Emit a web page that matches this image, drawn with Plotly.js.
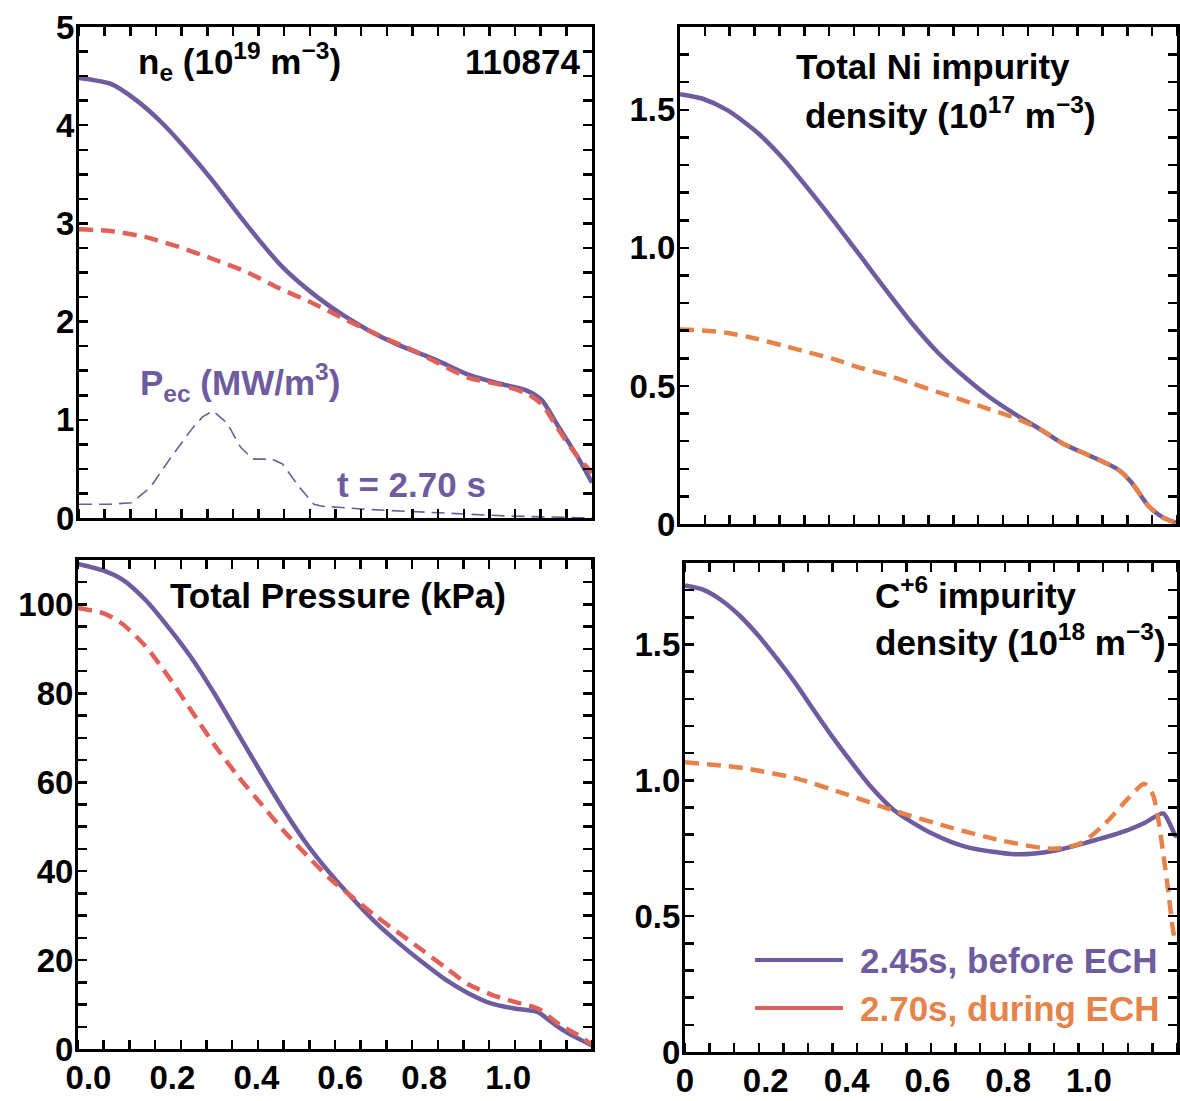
<!DOCTYPE html>
<html>
<head>
<meta charset="utf-8">
<script src="https://cdn.plot.ly/plotly-3.0.1.min.js"></script>
<style>
  html, body { margin: 0; padding: 0; background: #fff; }
  #chart { width: 1180px; height: 1101px; }
</style>
</head>
<body>
<div id="chart"></div>
<script>
// ---------------- DATA ----------------
// Top-left: electron density n_e (10^19 m^-3)
const neBeforeX = [-0.025, 0.051, 0.110, 0.174, 0.230, 0.293, 0.349, 0.405, 0.460, 0.532, 0.604, 0.667, 0.739, 0.827, 0.904, 0.978, 1.043, 1.080, 1.117, 1.163, 1.2];
const neBefore = [4.48, 4.42, 4.26, 4.02, 3.76, 3.44, 3.13, 2.83, 2.56, 2.29, 2.07, 1.91, 1.76, 1.61, 1.46, 1.37, 1.30, 1.20, 0.95, 0.64, 0.36];
const neDuringX = [-0.025, 0.055, 0.134, 0.214, 0.293, 0.373, 0.453, 0.532, 0.612, 0.691, 0.771, 0.818, 0.904, 0.978, 1.043, 1.080, 1.117, 1.163, 1.2];
const neDuring = [2.94, 2.92, 2.86, 2.76, 2.64, 2.51, 2.34, 2.19, 2.02, 1.86, 1.71, 1.61, 1.43, 1.36, 1.27, 1.16, 0.92, 0.64, 0.46];

// Top-left: ECH power density P_ec (MW/m^3) at t = 2.70 s
const pecX = [-0.025, 0.05, 0.100, 0.145, 0.195, 0.245, 0.270, 0.295, 0.328, 0.361, 0.390, 0.436, 0.461, 0.502, 0.536, 0.556, 0.668, 0.835, 1.0, 1.2];
const pec = [0.14, 0.14, 0.155, 0.31, 0.62, 0.91, 1.03, 1.09, 0.97, 0.72, 0.60, 0.60, 0.55, 0.31, 0.14, 0.12, 0.086, 0.05, 0.02, 0.0];

// Top-right: total Ni impurity density (10^17 m^-3)
const niX = [0, 0.054, 0.117, 0.190, 0.253, 0.316, 0.379, 0.443, 0.506, 0.569, 0.632, 0.696, 0.759, 0.822, 0.885, 0.939, 1.003, 1.066, 1.084, 1.111, 1.147, 1.183, 1.215];
const niBefore = [1.557, 1.541, 1.498, 1.417, 1.323, 1.211, 1.093, 0.969, 0.845, 0.726, 0.621, 0.534, 0.459, 0.397, 0.341, 0.291, 0.248, 0.204, 0.185, 0.142, 0.067, 0.024, 0.005];
const niDuring = [0.704, 0.701, 0.692, 0.670, 0.646, 0.621, 0.596, 0.565, 0.540, 0.509, 0.478, 0.447, 0.415, 0.384, 0.341, 0.291, 0.248, 0.204, 0.185, 0.142, 0.067, 0.024, 0.005];

// Bottom-left: total pressure (kPa)
const pX = [-0.025, 0.039, 0.081, 0.136, 0.191, 0.246, 0.301, 0.356, 0.411, 0.466, 0.521, 0.576, 0.631, 0.686, 0.741, 0.796, 0.851, 0.906, 0.961, 1.016, 1.071, 1.099, 1.127, 1.164, 1.2];
const pBefore = [109.1, 107.5, 105.6, 101.0, 94.8, 87.9, 79.8, 71.0, 62.2, 53.7, 46.0, 39.5, 33.7, 28.3, 23.7, 19.5, 15.6, 12.5, 10.2, 9.1, 8.3, 6.4, 4.5, 2.5, 0.8];
const pDuring = [99.2, 97.9, 95.6, 90.6, 83.7, 76.0, 68.3, 61.4, 55.2, 49.0, 43.5, 38.3, 34.0, 29.8, 26.0, 22.2, 18.3, 14.5, 12.2, 10.6, 9.1, 7.2, 5.2, 3.3, 1.0];

// Bottom-right: C+6 impurity density (10^18 m^-3)
const cBeforeX = [0, 0.046, 0.091, 0.137, 0.182, 0.228, 0.274, 0.319, 0.365, 0.411, 0.456, 0.520, 0.613, 0.698, 0.818, 0.911, 0.997, 1.082, 1.140, 1.184, 1.214, 1.218];
const cBefore = [1.717, 1.701, 1.662, 1.604, 1.532, 1.447, 1.356, 1.258, 1.160, 1.069, 0.984, 0.887, 0.803, 0.754, 0.728, 0.740, 0.772, 0.809, 0.845, 0.878, 0.797, 0.795];
const cDuringX = [0, 0.145, 0.273, 0.400, 0.520, 0.656, 0.784, 0.911, 0.980, 1.039, 1.099, 1.137, 1.158, 1.171, 1.184, 1.197, 1.208, 1.215];
const cDuring = [1.067, 1.045, 1.008, 0.948, 0.887, 0.827, 0.778, 0.748, 0.769, 0.839, 0.936, 0.987, 0.948, 0.863, 0.730, 0.585, 0.45, 0.40];

// Tick labels
const xTickVals = [0, 0.2, 0.4, 0.6, 0.8, 1.0];
const xTickTextLeft = ["0.0", "0.2", "0.4", "0.6", "0.8", "1.0"];
const xTickTextRight = ["0", "0.2", "0.4", "0.6", "0.8", "1.0"];
const neTicks = [0, 1, 2, 3, 4, 5];
const pTicks = [0, 20, 40, 60, 80, 100];
const impTicks = [0, 0.5, 1.0, 1.5];
const impTickText = ["0", "0.5", "1.0", "1.5"];

const seriesNames = ["2.45s, before ECH", "2.70s, during ECH"];

// ---------------- STYLE ----------------
const PURPLE = "#6E5C9F";
const RED = "#E0605A";
const ORANGE = "#E6834B";
const FONT = "'Liberation Sans', Arial, Helvetica, sans-serif";
const W = 1180, H = 1101;

function px2x(p) { return p / W; }
function px2y(p) { return 1 - p / H; }

function solid(x, y, xa, ya, color) {
  return { x: x, y: y, xaxis: xa, yaxis: ya, type: "scatter", mode: "lines",
    line: { color: color, width: 4.5, shape: "spline", smoothing: 0.7 }, showlegend: false, hoverinfo: "skip" };
}
function dashed(x, y, xa, ya, color) {
  return { x: x, y: y, xaxis: xa, yaxis: ya, type: "scatter", mode: "lines",
    line: { color: color, width: 4.5, dash: "14px,8px", shape: "spline", smoothing: 0.7 }, showlegend: false, hoverinfo: "skip" };
}

const traces = [
  solid(neBeforeX, neBefore, "x", "y", PURPLE),
  dashed(neDuringX, neDuring, "x", "y", RED),
  { x: pecX, y: pec, xaxis: "x", yaxis: "y", type: "scatter", mode: "lines",
    line: { color: PURPLE, width: 1.6, dash: "13px,7px" }, showlegend: false, hoverinfo: "skip" },
  solid(niX, niBefore, "x2", "y2", PURPLE),
  dashed(niX, niDuring, "x2", "y2", ORANGE),
  solid(pX, pBefore, "x3", "y3", PURPLE),
  dashed(pX, pDuring, "x3", "y3", RED),
  solid(cBeforeX, cBefore, "x4", "y4", PURPLE),
  dashed(cDuringX, cDuring, "x4", "y4", ORANGE)
];

const tickFont = { family: FONT, size: 33, color: "#000", weight: "bold" };

function xAxis(domain, range, tick0, showLabels, tickText, anchor) {
  const ax = {
    domain: domain, range: range, anchor: anchor,
    showline: true, linecolor: "#000", linewidth: 3, mirror: "allticks",
    showgrid: false, zeroline: false,
    showticklabels: showLabels, ticks: "", tickfont: tickFont, ticklabelstandoff: -3,
    minor: { ticks: "inside", ticklen: 9, tickwidth: 2.5, tickcolor: "#000", tick0: tick0, dtick: (range[1] - range[0]) / 20, showgrid: false }
  };
  if (showLabels) { ax.tickmode = "array"; ax.tickvals = xTickVals; ax.ticktext = tickText; }
  else { ax.tickmode = "linear"; ax.tick0 = 0; ax.dtick = 0.2; }
  return ax;
}
function yAxis(domain, range, tickvals, ticktext, dtickMinor, anchor) {
  return {
    domain: domain, range: range, anchor: anchor,
    showline: true, linecolor: "#000", linewidth: 3, mirror: "allticks",
    showgrid: false, zeroline: false,
    tickmode: "array", tickvals: tickvals, ticktext: ticktext,
    ticks: "inside", ticklen: 9, tickwidth: 2.5, tickcolor: "#000",
    tickfont: tickFont, ticklabelstandoff: -5,
    minor: { ticks: "inside", ticklen: 9, tickwidth: 2.5, tickcolor: "#000", dtick: dtickMinor, tick0: 0, showgrid: false }
  };
}

const xL = [-0.025, 1.2];
const xR = [0, 1.218];

const annFont = (color) => ({ family: FONT, size: 35, color: color, weight: "bold" });
function ann(text, xp, yp, xanchor, color) {
  return { text: text, xref: "paper", yref: "paper", x: px2x(xp), y: px2y(yp),
    xanchor: xanchor, yanchor: "middle", showarrow: false, font: annFont(color) };
}

const annotations = [
  ann("n<sub>e</sub> (10<sup>19</sup> m<sup>\u22123</sup>)", 136, 62, "left", "#000"),
  ann("110874", 582, 62, "right", "#000"),
  ann("P<sub>ec</sub> (MW/m<sup>3</sup>)", 138, 383, "left", PURPLE),
  ann("t = 2.70 s", 335, 485, "left", PURPLE),
  ann("Total Ni impurity", 933, 66, "center", "#000"),
  ann("density (10<sup>17</sup> m<sup>\u22123</sup>)", 950, 113, "center", "#000"),
  ann("Total Pressure (kPa)", 338, 595, "center", "#000"),
  ann("C<sup>+6</sup> impurity", 873, 593, "left", "#000"),
  ann("density (10<sup>18</sup> m<sup>\u22123</sup>)", 873, 640, "left", "#000"),
  ann(seriesNames[0], 858, 960, "left", PURPLE),
  ann(seriesNames[1], 858, 1008, "left", ORANGE)
];

const shapes = [
  { type: "line", xref: "paper", yref: "paper", x0: px2x(755), x1: px2x(843), y0: px2y(960), y1: px2y(960), line: { color: PURPLE, width: 4 } },
  { type: "line", xref: "paper", yref: "paper", x0: px2x(755), x1: px2x(843), y0: px2y(1008), y1: px2y(1008), line: { color: RED, width: 4 } }
];

const layout = {
  width: W, height: H,
  margin: { l: 0, r: 0, t: 0, b: 0 },
  paper_bgcolor: "#fff", plot_bgcolor: "#fff",
  showlegend: false,
  font: { family: FONT },
  xaxis: xAxis([px2x(79), px2x(592)], xL, -0.025, false, xTickTextLeft, "y"),
  yaxis: yAxis([px2y(518), px2y(27)], [0, 5], neTicks, neTicks.map(String), 0.25, "x"),
  xaxis2: xAxis([px2x(680), px2x(1177)], xR, 0, false, xTickTextRight, "y2"),
  yaxis2: yAxis([px2y(524), px2y(27)], [0, 1.8], impTicks, impTickText, 0.1, "x2"),
  xaxis3: xAxis([px2x(78), px2x(592)], xL, -0.025, true, xTickTextLeft, "y3"),
  yaxis3: yAxis([px2y(1049), px2y(560)], [0, 110], pTicks, pTicks.map(String), 5, "x3"),
  xaxis4: xAxis([px2x(685), px2x(1177)], xR, 0, true, xTickTextRight, "y4"),
  yaxis4: yAxis([px2y(1052), px2y(563)], [0, 1.8], impTicks, impTickText, 0.1, "x4"),
  annotations: annotations,
  shapes: shapes
};

Plotly.newPlot("chart", traces, layout, { staticPlot: true, displayModeBar: false });
</script>
</body>
</html>
